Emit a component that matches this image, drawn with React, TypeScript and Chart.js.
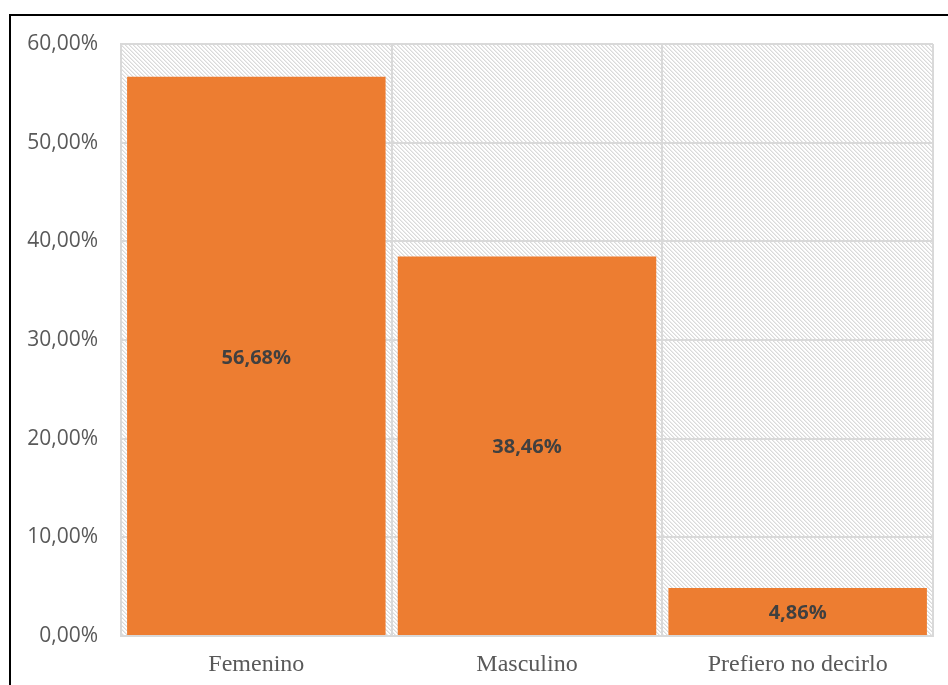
import React, { useEffect, useRef } from "react";
import { Chart, registerables } from "chart.js";

Chart.register(...registerables);

const categories: string[] = ["Femenino", "Masculino", "Prefiero no decirlo"];
const values: number[] = [56.68, 38.46, 4.86];
const yTicks: number[] = [0, 10, 20, 30, 40, 50, 60];

const fmt = (v: number) => v.toFixed(2).replace(".", ",") + "%";

function makeHatch(): CanvasPattern | string {
  const c = document.createElement("canvas");
  c.width = 4;
  c.height = 4;
  const ctx = c.getContext("2d");
  if (!ctx) return "#f2f2f2";
  ctx.fillStyle = "#ffffff";
  ctx.fillRect(0, 0, 4, 4);
  for (let i = 0; i < 4; i++) {
    ctx.fillStyle = "#dadada";
    ctx.fillRect(i, i, 1, 1);
    ctx.fillStyle = "#ececec";
    ctx.fillRect((i + 1) % 4, i, 1, 1);
  }
  const p = ctx.createPattern(c, "repeat");
  return p || "#f2f2f2";
}

const bgPlugin = {
  id: "hatchBg",
  beforeDraw(chart: any) {
    const { ctx, chartArea } = chart;
    ctx.save();
    ctx.fillStyle = "#ffffff";
    ctx.fillRect(0, 0, chart.width, chart.height);
    ctx.fillStyle = makeHatch();
    ctx.fillRect(chartArea.left, chartArea.top, chartArea.right - chartArea.left, chartArea.bottom - chartArea.top);
    ctx.restore();
  },
  afterDraw(chart: any) {
    const { ctx } = chart;
    ctx.save();
    ctx.strokeStyle = "#000000";
    ctx.lineWidth = 2;
    ctx.strokeRect(10, 15, chart.width + 20, chart.height + 20);
    ctx.restore();
  },
};

const labelPlugin = {
  id: "barLabels",
  afterDatasetsDraw(chart: any) {
    const { ctx } = chart;
    const meta = chart.getDatasetMeta(0);
    ctx.save();
    ctx.font = "bold 20px 'Open Sans'";
    ctx.fillStyle = "#404040";
    ctx.textAlign = "center";
    ctx.textBaseline = "middle";
    meta.data.forEach((bar: any, i: number) => {
      const y = (bar.y + bar.base) / 2 + 2;
      ctx.fillText(fmt(values[i]), bar.x, y);
    });
    ctx.restore();
  },
};

export default function App() {
  const ref = useRef<HTMLCanvasElement | null>(null);
  useEffect(() => {
    if (!ref.current) return;
    const chart = new Chart(ref.current, {
      type: "bar",
      data: {
        labels: categories,
        datasets: [
          {
            data: values,
            backgroundColor: "#ED7D31",
            barPercentage: 0.955,
            categoryPercentage: 1,
          },
        ],
      },
      options: {
        animation: false,
        responsive: false,
        layout: { padding: { top: 44, right: 15, left: 0, bottom: 0 } },
        plugins: { legend: { display: false }, tooltip: { enabled: false } },
        scales: {
          x: {
            grid: { color: "#d9d9d9", lineWidth: 2, offset: true, drawTicks: false },
            border: { display: true, color: "#d9d9d9", width: 2 },
            ticks: {
              color: "#595959",
              font: { family: "'Liberation Serif'", size: 24 },
              padding: 14,
              maxRotation: 0,
            },
            afterFit(scale: any) {
              scale.height = 49;
            },
          },
          y: {
            min: 0,
            max: 60,
            afterBuildTicks(scale: any) {
              scale.ticks = yTicks.map((v) => ({ value: v }));
            },
            grid: { color: "#d9d9d9", lineWidth: 2, drawTicks: false },
            border: { display: true, color: "#d9d9d9", width: 2 },
            ticks: {
              color: "#595959",
              font: { family: "'Open Sans'", size: 21 },
              padding: 23,
              callback: (v: any) => fmt(Number(v)),
            },
            afterFit(scale: any) {
              scale.width = 121;
            },
          },
        },
      },
      plugins: [bgPlugin, labelPlugin],
    });
    return () => chart.destroy();
  }, []);
  return (
    <div style={{ position: "absolute", left: 0, top: 0, width: 948, height: 685 }}>
      <canvas ref={ref} width={948} height={685} style={{ display: "block" }} />
    </div>
  );
}
